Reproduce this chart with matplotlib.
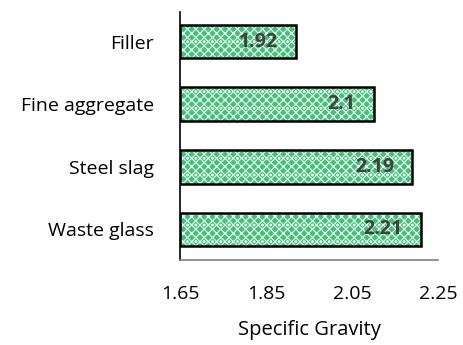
import matplotlib
matplotlib.use("Agg")
import matplotlib.pyplot as plt

categories = ["Waste glass", "Steel slag", "Fine aggregate", "Filler"]
values = [2.21, 2.19, 2.1, 1.92]
xticks = [1.65, 1.85, 2.05, 2.25]
xlabel = "Specific Gravity"

plt.rcParams['font.family'] = ['Open Sans', 'DejaVu Sans']
plt.rcParams['hatch.color'] = '#e8fff0'
plt.rcParams['hatch.linewidth'] = 0.8

fig = plt.figure(figsize=(4.64, 3.45), dpi=100)
ax = fig.add_axes([0.388, 0.246, 0.556, 0.719])

base = xticks[0]
widths = [v - base for v in values]
ax.barh(categories, widths, left=base, height=0.54, color='#45c07a',
        hatch='xxxx', edgecolor='#e8fff0', linewidth=0)
ax.barh(categories, widths, left=base, height=0.54, color='none',
        hatch='..', edgecolor='white', linewidth=0)
ax.barh(categories, widths, left=base, height=0.54, color='none',
        edgecolor='black', linewidth=1.8)

for i, v in enumerate(values):
    ax.annotate(f"{v:g}", (v, i), xytext=(-13, 0), textcoords='offset points',
                ha='right', va='center', fontsize=14, fontweight='bold',
                color='#404040')

ax.set_xlim(xticks[0], xticks[-1])
ax.set_xticks(xticks)
ax.set_xticklabels([f"{t:.2f}" for t in xticks])
ax.set_ylim(-0.49, 3.47)
ax.tick_params(axis='x', length=0, pad=18, labelsize=14)
ax.tick_params(axis='y', length=0, pad=19, labelsize=14)
ax.set_xlabel(xlabel, fontsize=14.5, labelpad=12)

for s in ['top', 'right']:
    ax.spines[s].set_visible(False)
ax.spines['left'].set_color('black')
ax.spines['left'].set_linewidth(1.2)
ax.spines['bottom'].set_color('#7f7f7f')
ax.spines['bottom'].set_linewidth(1.2)

fig.savefig("out.png", dpi=100)
